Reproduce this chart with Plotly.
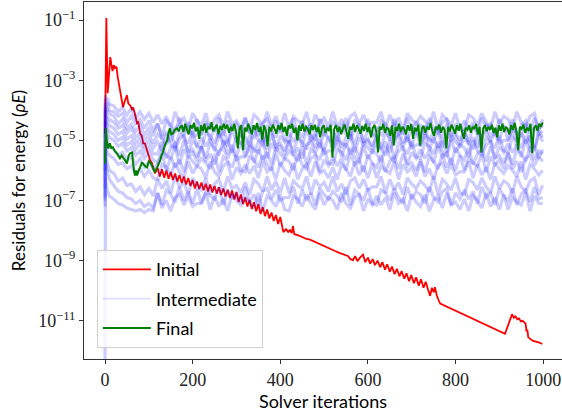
import plotly.graph_objects as go

# ---------------- data (log10 of residual) ----------------
RED_ITER = ([0, 3, 6, 9, 12, 17, 20, 23, 26, 29, 34, 41, 45, 50, 53, 58, 62, 64, 68, 73,
             76, 80, 84, 87, 91, 96, 100, 103, 107, 110, 114]
            + list(range(120, 401, 5))
            + [404, 407, 413, 418, 422, 426, 429, 432, 440, 450, 460, 468, 475, 485, 495, 505,
               515, 525, 535, 545, 555, 560, 566, 571, 576, 582, 589, 594, 600, 605, 611, 616,
               622, 628, 633, 639, 644, 650, 655, 661, 666, 672, 677, 683, 688, 694, 699, 705,
               710, 716, 721, 727, 732, 738, 742, 746, 750, 753, 757, 761, 765, 913, 921, 929,
               933, 937, 941, 945, 949, 953, 957, 960, 962, 964, 966, 970, 977, 990, 998])
RED_EXP = ([-4.77, -0.93, -3.43, -2.6, -2.23, -2.7, -2.5, -2.6, -2.55, -2.9, -3.27, -3.9, -3.7,
            -3.5, -3.77, -3.85, -4.0, -3.9, -4.1, -4.43, -4.4, -4.77, -4.85, -5.1, -5.1, -5.33,
            -5.45, -5.67, -5.75, -5.93, -6.1]
           + [-5.92, -6.2, -5.96, -6.24, -6.0, -6.28, -6.05, -6.32, -6.1, -6.37,
              -6.15, -6.42, -6.2, -6.47, -6.25, -6.52, -6.32, -6.6, -6.37, -6.62,
              -6.4, -6.66, -6.44, -6.7, -6.47, -6.73, -6.52, -6.77, -6.56, -6.82,
              -6.6, -6.87, -6.64, -6.92, -6.67, -6.97, -6.72, -7.05, -6.8, -7.12,
              -6.9, -7.2, -6.98, -7.28, -7.06, -7.36, -7.12, -7.45, -7.22, -7.52,
              -7.3, -7.6, -7.4, -7.68, -7.48, -7.78, -7.55]
           + [-7.85, -8.05, -7.95, -8.05, -7.98, -8.08, -7.85, -8.12, -8.15, -8.22, -8.28, -8.3,
              -8.35, -8.42, -8.48, -8.55, -8.62, -8.68, -8.74, -8.8, -8.85, -8.95, -8.98, -8.85,
              -9.02, -8.9, -8.8, -9.05, -8.9, -9.1, -8.95, -9.15, -9.0, -9.22, -9.05, -9.3,
              -9.12, -9.37, -9.2, -9.45, -9.27, -9.52, -9.35, -9.6, -9.42, -9.68, -9.48, -9.75,
              -9.55, -9.83, -9.62, -9.9, -9.7, -10.0, -10.17, -9.9, -10.05, -9.88, -10.15,
              -10.3, -10.43, -11.43, -11.1, -10.78, -10.9, -10.85, -10.95, -10.92, -11.02,
              -11.0, -11.05, -11.1, -11.35, -11.3, -11.55, -11.6, -11.67, -11.72, -11.77])

GREEN_ITER = ([0, 2, 4, 7, 11, 14, 18, 22, 27, 30, 34, 38, 41, 45, 50, 54, 57, 62, 64, 68,
               71, 73, 77, 80, 84, 87, 91, 96, 100, 103, 107, 110, 114, 117, 119, 122, 126,
               129, 132, 137, 142, 145, 148, 151, 155, 159, 164, 168, 171]
              + list(range(175, 1000, 4)))
GREEN_EXP = ([-5.77, -4.6, -5.0, -5.27, -5.1, -5.25, -5.23, -5.35, -5.43, -5.5, -5.6, -5.5,
              -5.57, -5.65, -5.77, -5.5, -5.43, -5.4, -5.77, -6.17, -6.0, -6.17, -6.0, -5.9,
              -5.75, -5.77, -5.85, -5.9, -5.7, -5.73, -5.83, -5.95, -6.07, -5.95, -5.9, -5.8,
              -5.67, -5.5, -5.4, -5.15, -5.0, -4.75, -4.6, -4.8, -4.77, -4.65, -4.6, -4.7, -4.57]
             + [-4.5, -4.72, -4.45, -4.65, -4.8, -4.5, -4.6, -4.42, -4.7, -4.55, -4.95, -4.5, -4.68,
                -4.45, -4.75, -4.55, -4.62, -4.4, -4.7, -4.58, -4.48, -4.8, -4.52, -4.65, -4.45]
             + [-4.62, -4.48, -4.75, -4.55, -4.68, -4.45, -4.72, -5.27, -4.6, -4.5, -5.33, -4.58,
                -4.7, -4.45, -4.62, -4.8, -4.5, -4.65, -4.42, -4.72, -4.55, -4.98, -4.5, -4.68, -5.2]
             + [-4.55, -4.7, -4.48, -4.62, -4.78, -4.5, -4.65, -4.42, -4.72, -4.55, -4.85, -4.5,
                -4.6, -4.45, -4.75, -4.58, -5.0, -4.5, -4.68, -4.45, -4.7, -4.55, -4.62, -4.8, -4.5]
             + [-4.65, -4.48, -4.72, -4.55, -4.9, -4.6, -4.5, -4.75, -4.58, -4.68, -4.48, -5.57,
                -4.62, -4.5, -4.72, -4.55, -4.8, -4.6, -4.48, -4.7, -4.95, -4.55, -4.65, -4.45, -4.72]
             + [-4.5, -4.62, -4.78, -4.52, -4.68, -4.45, -4.72, -4.55, -4.9, -4.6, -4.48, -4.7,
                -5.4, -4.55, -4.65, -4.45, -4.75, -4.58, -4.62, -4.85, -4.5, -5.17, -4.55, -4.68, -4.45]
             + [-4.72, -4.55, -4.62, -4.8, -4.5, -4.68, -4.45, -4.95, -4.58, -4.7, -4.48, -5.17,
                -4.6, -4.52, -4.75, -4.55, -4.65, -4.42, -4.7, -4.85, -4.55, -4.62, -4.48, -4.75, -4.55]
             + [-4.65, -5.27, -4.55, -4.7, -4.48, -4.62, -4.78, -4.5, -4.68, -4.45, -4.72, -4.95,
                -4.58, -4.65, -4.5, -4.75, -4.55, -4.62, -4.45, -4.8, -4.55, -5.4, -4.6, -4.5, -4.7]
             + [-4.55, -4.65, -4.48, -4.75, -4.58, -4.9, -4.5, -4.68, -4.45, -4.72, -4.55, -4.62,
                -4.8, -4.5, -4.65, -4.42, -4.7, -5.33, -4.55, -4.62, -4.48, -4.75, -4.58, -4.68, -4.45]
             + [-5.43, -4.6, -4.5, -4.68, -4.45, -4.55, -4.4])

BLUE_ITER = [0, 1, 3, 6, 10] + list(range(20, 1000, 10)) + [999]
BLUE_A = ([-4.2, -3.5, -3.65, -3.6, -3.8,
           -3.85, -4.05, -3.9, -4.15, -3.95, -4.25, -4.05, -4.3, -4.1, -4.4]
          + [-4.15, -4.45, -4.2, -4.6, -4.05, -4.4, -4.25, -4.65, -4.1, -4.35]
          + [-4.5, -4.1, -4.65, -4.3, -4.15, -4.55, -4.05, -4.45, -4.35, -4.6]
          + [-4.25, -4.65, -4.15, -4.3, -4.55, -4.05, -4.5, -4.2, -4.6, -4.1]
          + [-4.6, -4.2, -4.35, -4.45, -4.05, -4.65, -4.15, -4.4, -4.25, -4.55]
          + [-4.05, -4.55, -4.3, -4.65, -4.2, -4.1, -4.45, -4.15, -4.5, -4.4]
          + [-4.4, -4.05, -4.6, -4.15, -4.5, -4.25, -4.65, -4.1, -4.3, -4.45]
          + [-4.2, -4.35, -4.55, -4.05, -4.65, -4.15, -4.3, -4.5, -4.1, -4.6]
          + [-4.65, -4.15, -4.25, -4.5, -4.1, -4.4, -4.6, -4.05, -4.45, -4.2]
          + [-4.3, -4.6, -4.05, -4.4, -4.55, -4.2, -4.1, -4.65, -4.3])
BLUE_B = ([-4.5, -3.6, -3.9, -3.75, -4.0,
           -4.05, -4.2, -4.1, -4.4, -4.2, -4.45, -4.3, -4.6, -4.35, -4.65]
          + [-4.45, -4.85, -4.35, -4.5, -4.75, -4.25, -4.7, -4.4, -4.8, -4.3]
          + [-4.8, -4.4, -4.55, -4.65, -4.25, -4.85, -4.35, -4.6, -4.45, -4.75]
          + [-4.25, -4.75, -4.5, -4.85, -4.4, -4.3, -4.65, -4.35, -4.7, -4.6]
          + [-4.6, -4.25, -4.8, -4.35, -4.7, -4.45, -4.85, -4.3, -4.5, -4.65]
          + [-4.4, -4.55, -4.75, -4.25, -4.85, -4.35, -4.5, -4.7, -4.3, -4.8]
          + [-4.85, -4.35, -4.45, -4.7, -4.3, -4.6, -4.8, -4.25, -4.65, -4.4]
          + [-4.5, -4.8, -4.25, -4.6, -4.75, -4.4, -4.3, -4.85, -4.45, -4.65]
          + [-4.35, -4.65, -4.4, -4.8, -4.25, -4.6, -4.45, -4.85, -4.3, -4.55]
          + [-4.7, -4.3, -4.85, -4.5, -4.35, -4.75, -4.25, -4.65, -4.5])
BLUE_C = ([-4.9, -3.75, -3.85, -4.0, -4.1,
           -4.2, -4.45, -4.3, -4.6, -4.45, -4.7, -4.5, -4.8, -4.6, -4.85]
          + [-4.45, -4.95, -4.7, -5.05, -4.6, -4.5, -4.85, -4.55, -4.9, -4.8]
          + [-4.8, -4.45, -5.0, -4.55, -4.9, -4.65, -5.05, -4.5, -4.7, -4.85]
          + [-4.6, -4.75, -4.95, -4.45, -5.05, -4.55, -4.7, -4.9, -4.5, -5.0]
          + [-5.05, -4.55, -4.65, -4.9, -4.5, -4.8, -5.0, -4.45, -4.85, -4.6]
          + [-4.7, -5.0, -4.45, -4.8, -4.95, -4.6, -4.5, -5.05, -4.65, -4.85]
          + [-4.55, -4.85, -4.6, -5.0, -4.45, -4.8, -4.65, -5.05, -4.5, -4.75]
          + [-4.9, -4.5, -5.05, -4.7, -4.55, -4.95, -4.45, -4.85, -4.75, -5.0]
          + [-4.65, -5.05, -4.55, -4.7, -4.95, -4.45, -4.9, -4.6, -5.0, -4.5]
          + [-5.0, -4.6, -4.75, -4.85, -4.45, -5.05, -4.55, -4.8, -4.7])
BLUE_D = ([-5.3, -3.9, -4.1, -4.2, -4.3,
           -4.4, -4.6, -4.5, -4.75, -4.6, -4.9, -4.75, -5.0, -4.8, -5.1]
          + [-4.8, -4.95, -5.15, -4.65, -5.25, -4.75, -4.9, -5.1, -4.7, -5.2]
          + [-5.25, -4.75, -4.85, -5.1, -4.7, -5.0, -5.2, -4.65, -5.05, -4.8]
          + [-4.9, -5.2, -4.65, -5.0, -5.15, -4.8, -4.7, -5.25, -4.85, -5.05]
          + [-4.75, -5.05, -4.8, -5.2, -4.65, -5.0, -4.85, -5.25, -4.7, -4.95]
          + [-5.1, -4.7, -5.25, -4.9, -4.75, -5.15, -4.65, -5.05, -4.95, -5.2]
          + [-4.85, -5.25, -4.75, -4.9, -5.15, -4.65, -5.1, -4.8, -5.2, -4.7]
          + [-5.2, -4.8, -4.95, -5.05, -4.65, -5.25, -4.75, -5.0, -4.85, -5.15]
          + [-4.65, -5.15, -4.9, -5.25, -4.8, -4.7, -5.05, -4.75, -5.1, -5.0]
          + [-5.0, -4.65, -5.2, -4.75, -5.1, -4.85, -5.25, -4.7, -4.9])
BLUE_E = ([-5.6, -4.0, -4.3, -4.35, -4.5,
           -4.6, -4.8, -4.7, -4.95, -4.85, -5.1, -4.9, -5.2, -5.0, -5.25]
          + [-5.05, -5.35, -4.8, -5.15, -5.3, -4.95, -4.85, -5.4, -5.0, -5.2]
          + [-4.9, -5.2, -4.95, -5.35, -4.8, -5.15, -5.0, -5.4, -4.85, -5.1]
          + [-5.25, -4.85, -5.4, -5.05, -4.9, -5.3, -4.8, -5.2, -5.1, -5.35]
          + [-5.0, -5.4, -4.9, -5.05, -5.3, -4.8, -5.25, -4.95, -5.35, -4.85]
          + [-5.35, -4.95, -5.1, -5.2, -4.8, -5.4, -4.9, -5.15, -5.0, -5.3]
          + [-4.8, -5.3, -5.05, -5.4, -4.95, -4.85, -5.2, -4.9, -5.25, -5.15]
          + [-5.15, -4.8, -5.35, -4.9, -5.25, -5.0, -5.4, -4.85, -5.05, -5.2]
          + [-4.95, -5.1, -5.3, -4.8, -5.4, -4.9, -5.05, -5.25, -4.85, -5.35]
          + [-5.4, -4.9, -5.0, -5.25, -4.85, -5.15, -5.35, -4.8, -5.05])
BLUE_F = ([-6.0, -4.2, -4.4, -4.6, -4.7,
           -4.8, -5.0, -4.9, -5.15, -5.05, -5.3, -5.1, -5.4, -5.2, -5.45]
          + [-5.45, -5.05, -5.6, -5.25, -5.1, -5.5, -5.0, -5.4, -5.3, -5.55]
          + [-5.2, -5.6, -5.1, -5.25, -5.5, -5.0, -5.45, -5.15, -5.55, -5.05]
          + [-5.55, -5.15, -5.3, -5.4, -5.0, -5.6, -5.1, -5.35, -5.2, -5.5]
          + [-5.0, -5.5, -5.25, -5.6, -5.15, -5.05, -5.4, -5.1, -5.45, -5.35]
          + [-5.35, -5.0, -5.55, -5.1, -5.45, -5.2, -5.6, -5.05, -5.25, -5.4]
          + [-5.15, -5.3, -5.5, -5.0, -5.6, -5.1, -5.25, -5.45, -5.05, -5.55]
          + [-5.6, -5.1, -5.2, -5.45, -5.05, -5.35, -5.55, -5.0, -5.4, -5.15]
          + [-5.25, -5.55, -5.0, -5.35, -5.5, -5.15, -5.05, -5.6, -5.2, -5.4]
          + [-5.1, -5.4, -5.15, -5.55, -5.0, -5.35, -5.2, -5.6, -5.3])
BLUE_G = ([-6.3, -4.4, -4.6, -4.8, -4.9,
           -5.0, -5.2, -5.1, -5.35, -5.25, -5.5, -5.35, -5.6, -5.4, -5.65]
          + [-5.75, -5.35, -5.5, -5.6, -5.2, -5.8, -5.3, -5.55, -5.4, -5.7]
          + [-5.2, -5.7, -5.45, -5.8, -5.35, -5.25, -5.6, -5.3, -5.65, -5.55]
          + [-5.55, -5.2, -5.75, -5.3, -5.65, -5.4, -5.8, -5.25, -5.45, -5.6]
          + [-5.35, -5.5, -5.7, -5.2, -5.8, -5.3, -5.45, -5.65, -5.25, -5.75]
          + [-5.8, -5.3, -5.4, -5.65, -5.25, -5.55, -5.75, -5.2, -5.6, -5.35]
          + [-5.45, -5.75, -5.2, -5.55, -5.7, -5.35, -5.25, -5.8, -5.4, -5.6]
          + [-5.3, -5.6, -5.35, -5.75, -5.2, -5.55, -5.4, -5.8, -5.25, -5.5]
          + [-5.65, -5.25, -5.8, -5.45, -5.3, -5.7, -5.2, -5.6, -5.5, -5.75]
          + [-5.4, -5.8, -5.3, -5.45, -5.7, -5.2, -5.65, -5.35, -5.45])
BLUE_H = ([-6.6, -4.6, -4.9, -5.0, -5.2,
           -5.3, -5.5, -5.4, -5.65, -5.55, -5.8, -5.6, -5.9, -5.7, -5.95]
          + [-5.8, -5.45, -6.0, -5.55, -5.9, -5.65, -6.05, -5.5, -5.7, -5.85]
          + [-5.6, -5.75, -5.95, -5.45, -6.05, -5.55, -5.7, -5.9, -5.5, -6.0]
          + [-6.05, -5.55, -5.65, -5.9, -5.5, -5.8, -6.0, -5.45, -5.85, -5.6]
          + [-5.7, -6.0, -5.45, -5.8, -5.95, -5.6, -5.5, -6.05, -5.65, -5.85]
          + [-5.55, -5.85, -5.6, -6.0, -5.45, -5.8, -5.65, -6.05, -5.5, -5.75]
          + [-5.9, -5.5, -6.05, -5.7, -5.55, -5.95, -5.45, -5.85, -5.75, -6.0]
          + [-5.65, -6.05, -5.55, -5.7, -5.95, -5.45, -5.9, -5.6, -6.0, -5.5]
          + [-6.0, -5.6, -5.75, -5.85, -5.45, -6.05, -5.55, -5.8, -5.65, -5.95]
          + [-5.45, -5.95, -5.7, -6.05, -5.6, -5.5, -5.85, -5.55, -5.7])
BLUE_I = ([-6.9, -5.0, -5.2, -5.4, -5.5,
           -5.6, -5.8, -5.75, -5.95, -5.85, -6.1, -5.95, -6.2, -6.0, -6.25]
          + [-6.3, -5.8, -5.9, -6.15, -5.75, -6.05, -6.25, -5.7, -6.1, -5.85]
          + [-5.95, -6.25, -5.7, -6.05, -6.2, -5.85, -5.75, -6.3, -5.9, -6.1]
          + [-5.8, -6.1, -5.85, -6.25, -5.7, -6.05, -5.9, -6.3, -5.75, -6.0]
          + [-6.15, -5.75, -6.3, -5.95, -5.8, -6.2, -5.7, -6.1, -6.0, -6.25]
          + [-5.9, -6.3, -5.8, -5.95, -6.2, -5.7, -6.15, -5.85, -6.25, -5.75]
          + [-6.25, -5.85, -6.0, -6.1, -5.7, -6.3, -5.8, -6.05, -5.9, -6.2]
          + [-5.7, -6.2, -5.95, -6.3, -5.85, -5.75, -6.1, -5.8, -6.15, -6.05]
          + [-6.05, -5.7, -6.25, -5.8, -6.15, -5.9, -6.3, -5.75, -5.95, -6.1]
          + [-5.85, -6.0, -6.2, -5.7, -6.3, -5.8, -5.95, -6.15, -6.0])
BLUE_J = ([-7.0, -5.3, -5.6, -5.8, -6.0,
           -6.1, -6.35, -6.25, -6.5, -6.45, -6.7, -6.55, -6.8, -6.6, -6.85]
          + [-6.3, -6.6, -6.35, -6.75, -6.2, -6.55, -6.4, -6.8, -6.25, -6.5]
          + [-6.65, -6.25, -6.8, -6.45, -6.3, -6.7, -6.2, -6.6, -6.5, -6.75]
          + [-6.4, -6.8, -6.3, -6.45, -6.7, -6.2, -6.65, -6.35, -6.75, -6.25]
          + [-6.75, -6.35, -6.5, -6.6, -6.2, -6.8, -6.3, -6.55, -6.4, -6.7]
          + [-6.2, -6.7, -6.45, -6.8, -6.35, -6.25, -6.6, -6.3, -6.65, -6.55]
          + [-6.55, -6.2, -6.75, -6.3, -6.65, -6.4, -6.8, -6.25, -6.45, -6.6]
          + [-6.35, -6.5, -6.7, -6.2, -6.8, -6.3, -6.45, -6.65, -6.25, -6.75]
          + [-6.8, -6.3, -6.4, -6.65, -6.25, -6.55, -6.75, -6.2, -6.6, -6.35]
          + [-6.45, -6.75, -6.2, -6.55, -6.7, -6.35, -6.25, -6.8, -6.5])
BLUE_K = ([-7.2, -5.6, -5.9, -6.1, -6.3,
           -6.5, -6.7, -6.75, -6.9, -6.95, -7.1, -7.0, -7.2, -7.1, -7.25]
          + [-6.75, -7.15, -6.65, -6.8, -7.05, -6.55, -7.0, -6.7, -7.1, -6.6]
          + [-7.1, -6.7, -6.85, -6.95, -6.55, -7.15, -6.65, -6.9, -6.75, -7.05]
          + [-6.55, -7.05, -6.8, -7.15, -6.7, -6.6, -6.95, -6.65, -7.0, -6.9]
          + [-6.9, -6.55, -7.1, -6.65, -7.0, -6.75, -7.15, -6.6, -6.8, -6.95]
          + [-6.7, -6.85, -7.05, -6.55, -7.15, -6.65, -6.8, -7.0, -6.6, -7.1]
          + [-7.15, -6.65, -6.75, -7.0, -6.6, -6.9, -7.1, -6.55, -6.95, -6.7]
          + [-6.8, -7.1, -6.55, -6.9, -7.05, -6.7, -6.6, -7.15, -6.75, -6.95]
          + [-6.65, -6.95, -6.7, -7.1, -6.55, -6.9, -6.75, -7.15, -6.6, -6.85]
          + [-7.0, -6.6, -7.15, -6.8, -6.65, -7.05, -6.55, -6.95, -6.9])
BLUE_L = ([-12.4, -6.3, -6.5, -6.7, -6.85,
           -6.95, -7.1, -7.15, -7.25, -7.3, -7.35, -7.3, -7.4, -7.3, -7.35]
          + [-6.75, -7.25, -7.0, -7.35, -6.9, -6.8, -7.15, -6.85, -7.2, -7.1]
          + [-7.1, -6.75, -7.3, -6.85, -7.2, -6.95, -7.35, -6.8, -7.0, -7.15]
          + [-6.9, -7.05, -7.25, -6.75, -7.35, -6.85, -7.0, -7.2, -6.8, -7.3]
          + [-7.35, -6.85, -6.95, -7.2, -6.8, -7.1, -7.3, -6.75, -7.15, -6.9]
          + [-7.0, -7.3, -6.75, -7.1, -7.25, -6.9, -6.8, -7.35, -6.95, -7.15]
          + [-6.85, -7.15, -6.9, -7.3, -6.75, -7.1, -6.95, -7.35, -6.8, -7.05]
          + [-7.2, -6.8, -7.35, -7.0, -6.85, -7.25, -6.75, -7.15, -7.05, -7.3]
          + [-6.95, -7.35, -6.85, -7.0, -7.25, -6.75, -7.2, -6.9, -7.3, -6.8]
          + [-7.3, -6.9, -7.05, -7.15, -6.75, -7.35, -6.85, -7.1, -7.1])
BLUE_LINES = [BLUE_A, BLUE_B, BLUE_C, BLUE_D, BLUE_E, BLUE_F,
              BLUE_G, BLUE_H, BLUE_I, BLUE_J, BLUE_K, BLUE_L]

Y_TICK_EXP = [-11, -9, -7, -5, -3, -1]
X_TICKS = [0, 200, 400, 600, 800, 1000]
LABELS = ["Initial", "Intermediate", "Final"]

# ---------------- figure ----------------
fig = go.Figure()
fig.add_trace(go.Scatter(x=RED_ITER, y=[10 ** e for e in RED_EXP], mode="lines",
                         line=dict(color="#ff0000", width=1.8), name=LABELS[0],
                         legendgroup="a"))
for vals in BLUE_LINES:
    fig.add_trace(go.Scatter(x=BLUE_ITER, y=[10 ** e for e in vals], mode="lines",
                             line=dict(color="rgba(0,0,255,0.2)", width=3.2, simplify=False),
                             name=LABELS[1], showlegend=False, legendgroup="b"))
# legend entry for the intermediate iterations (very light, as in the reference key)
fig.add_trace(go.Scatter(x=[None], y=[None], mode="lines",
                         line=dict(color="rgba(0,0,255,0.12)", width=2),
                         name=LABELS[1], legendgroup="b"))
fig.add_trace(go.Scatter(x=GREEN_ITER, y=[10 ** e for e in GREEN_EXP], mode="lines",
                         line=dict(color="#008000", width=2, simplify=False), name=LABELS[2],
                         legendgroup="c"))

serif = "Liberation Serif"
sans = "Lato"
fig.update_layout(
    width=562, height=412,
    margin=dict(l=84, r=0, t=2, b=53),
    paper_bgcolor="white", plot_bgcolor="white",
    showlegend=True,
    legend=dict(x=0.027, y=0.305, xanchor="left", yanchor="top", tracegroupgap=3,
                bgcolor="rgba(255,255,255,0.8)", bordercolor="#d0d0d0", borderwidth=1,
                font=dict(family=sans, size=18, color="black"), itemwidth=48),
    xaxis=dict(range=[-48, 1043], tickvals=X_TICKS, ticktext=[str(v) for v in X_TICKS],
               ticks="outside", ticklen=4, tickcolor="#333", showline=True, linecolor="#333",
               linewidth=1, mirror=True, showgrid=False, zeroline=False,
               tickfont=dict(family=serif, size=18, color="#222"),
               title=dict(text="Solver iterations", font=dict(family=sans, size=18, color="black"),
                          standoff=2)),
    yaxis=dict(type="log", range=[-12.27, -0.4], tickvals=[10 ** e for e in Y_TICK_EXP],
               ticktext=["10<sup>\u2212%d</sup>" % (-e) for e in Y_TICK_EXP],
               ticks="outside", ticklen=4, tickcolor="#333", showline=True, linecolor="#333",
               linewidth=1, showgrid=False, zeroline=False,
               tickfont=dict(family=serif, size=18, color="#222"),
               title=dict(text="Residuals for energy (<i>\u03c1E</i>)",
                          font=dict(family=sans, size=17, color="black"), standoff=8)),
)
fig.write_html("out.html")
